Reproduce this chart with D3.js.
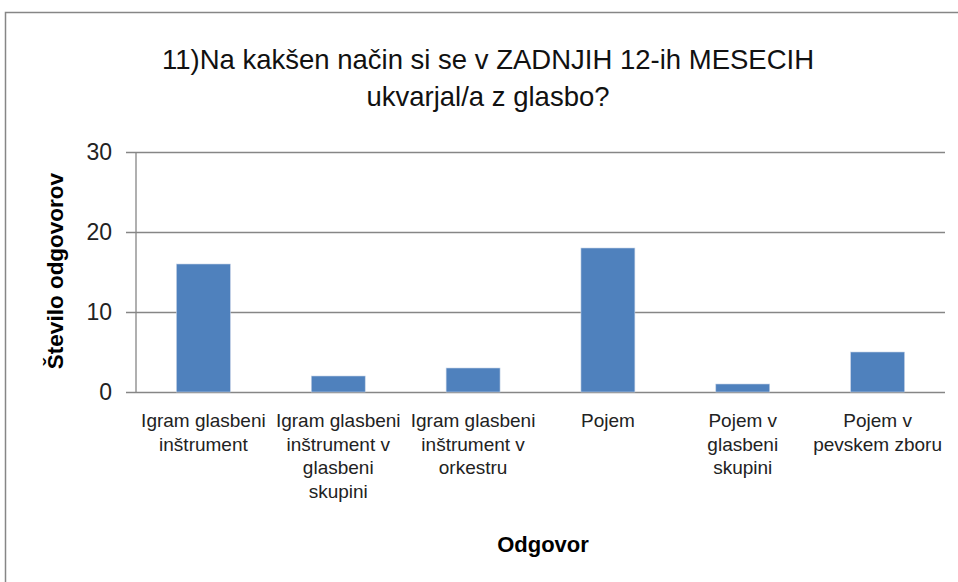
<!DOCTYPE html>
<html><head><meta charset="utf-8">
<script src="https://cdn.jsdelivr.net/npm/d3@7"></script>
<style>body{margin:0;background:#fff}svg{display:block}text{font-family:'Liberation Sans',Arial,sans-serif}</style>
</head><body>
<svg id="c" width="958" height="582"></svg>
<script>
const titleLines = ["11)Na kakšen način si se v ZADNJIH 12-ih MESECIH", "ukvarjal/a z glasbo?"];
const categories = ["Igram glasbeni\ninštrument", "Igram glasbeni\ninštrument v\nglasbeni\nskupini", "Igram glasbeni\ninštrument v\norkestru", "Pojem", "Pojem v\nglasbeni\nskupini", "Pojem v\npevskem zboru"];
const values = [16, 2, 3, 18, 1, 5];
const yTicks = [0, 10, 20, 30];
const yLabel = "Število odgovorov";
const xLabel = "Odgovor";

const svg = d3.select("#c");
svg.append("rect").attr("x", 5.5).attr("y", 12.5).attr("width", 1000).attr("height", 1000)
  .attr("fill", "#fff").attr("stroke", "#868686").attr("stroke-width", 1.5);

const m = {l: 136, r: 945, t: 152, b: 392};
const x = d3.scaleBand().domain(categories).range([m.l, m.r]).paddingInner(0.6).paddingOuter(0.3);
const y = d3.scaleLinear().domain([0, 30]).range([m.b, m.t]);

// gridlines + y axis
const ya = d3.axisLeft(y).tickValues(yTicks).tickSize(m.r - m.l + 10).tickPadding(14);
const yg = svg.append("g").attr("transform", `translate(${m.r},0)`).call(ya);
yg.select(".domain").remove();
yg.selectAll(".tick line").attr("stroke", "#868686").attr("stroke-width", 1.3);
yg.selectAll(".tick text").attr("font-size", 23).attr("fill", "#222");
svg.append("line").attr("x1", m.l).attr("x2", m.l).attr("y1", m.t).attr("y2", m.b)
  .attr("stroke", "#868686").attr("stroke-width", 1.3);

// bars
svg.append("g").selectAll("rect").data(values).join("rect")
  .attr("x", (d, i) => x(categories[i])).attr("width", x.bandwidth())
  .attr("y", d => y(d)).attr("height", d => y(0) - y(d))
  .attr("fill", "#4F81BD").attr("stroke", "#c6d3e6").attr("stroke-width", 0.6);

// x axis labels
const xa = d3.axisBottom(x).tickSize(0).tickPadding(0).tickFormat("");
const xg = svg.append("g").attr("transform", `translate(0,${m.b})`).call(xa);
xg.select(".domain").remove();
xg.selectAll(".tick").each(function(d) {
  const t = d3.select(this).append("text").attr("fill", "#222").attr("font-size", 19)
    .attr("text-anchor", "middle");
  d.split("\n").forEach((s, i) => t.append("tspan").attr("x", 0).attr("y", 35 + i * 23.5).text(s));
});

// axis titles
svg.append("text").attr("x", 543).attr("y", 552).attr("text-anchor", "middle")
  .attr("font-size", 22).attr("font-weight", "bold").text(xLabel);
svg.append("text").attr("transform", "translate(63,271) rotate(-90)").attr("text-anchor", "middle")
  .attr("font-size", 22.5).attr("font-weight", "bold").text(yLabel);

// title
titleLines.forEach((s, i) => {
  svg.append("text").attr("x", 488).attr("y", 69 + i * 37).attr("text-anchor", "middle")
    .attr("font-size", 27.5).attr("fill", "#111").text(s);
});
</script>
</body></html>
